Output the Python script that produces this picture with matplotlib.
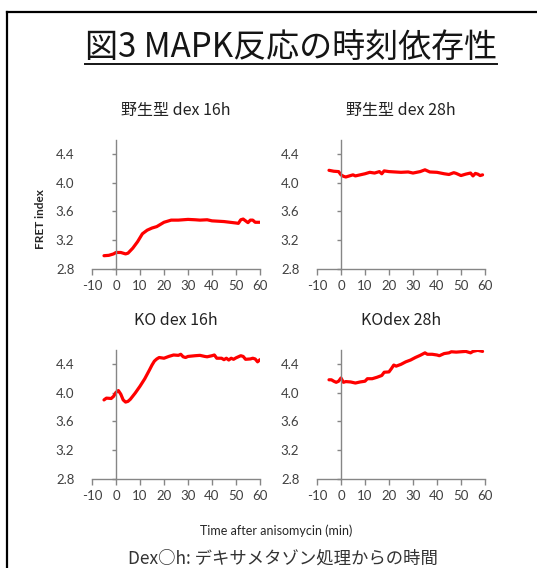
import matplotlib.pyplot as plt
from matplotlib.lines import Line2D

plt.rcParams['font.family'] = ['Lato', 'Noto Sans CJK JP', 'DejaVu Sans']
plt.rcParams['axes.unicode_minus'] = False

# FRET index time courses (min after anisomycin)
t_wt16 = [-5, -3, -1, 0, 2, 4, 5, 7, 9, 11, 13, 15, 17, 20, 23, 26, 30, 33, 35, 38,
          40, 45, 50, 51, 52, 53, 54, 55, 56, 57, 58, 60]
v_wt16 = [2.985, 2.99, 3.01, 3.03, 3.03, 3.01, 3.02, 3.09, 3.18, 3.29, 3.34, 3.37, 3.39,
          3.45, 3.48, 3.48, 3.49, 3.485, 3.48, 3.485, 3.47, 3.46, 3.44, 3.435, 3.485,
          3.495, 3.47, 3.445, 3.48, 3.48, 3.45, 3.45]

t_wt28 = [-5, -3, -1, 0, 1, 2, 3, 5, 6, 8, 10, 12, 14, 16, 17, 18, 20, 25, 28, 30, 33,
          35, 37, 40, 43, 45, 47, 48, 50, 52, 54, 55, 56, 57, 58, 59]
v_wt28 = [4.173, 4.16, 4.155, 4.11, 4.09, 4.08, 4.09, 4.11, 4.095, 4.11, 4.125, 4.145,
          4.135, 4.155, 4.125, 4.165, 4.155, 4.145, 4.15, 4.135, 4.155, 4.18, 4.15, 4.145,
          4.125, 4.115, 4.14, 4.13, 4.10, 4.12, 4.135, 4.095, 4.13, 4.12, 4.10, 4.11]

t_ko16 = [-5, -4, -2, -1, 0, 1, 2, 3, 4, 5, 6, 8, 10, 12, 14, 15, 16, 17, 18, 20, 22, 24,
          26, 27, 28, 29, 30, 33, 35, 37, 38, 40, 41, 42, 44, 45, 46, 47, 48, 49, 50, 52,
          53, 54, 56, 57, 58, 59, 60]
v_ko16 = [3.90, 3.925, 3.92, 3.95, 4.005, 4.03, 3.98, 3.90, 3.87, 3.88, 3.91, 3.995, 4.09,
          4.195, 4.32, 4.385, 4.44, 4.47, 4.49, 4.48, 4.505, 4.525, 4.52, 4.535, 4.50, 4.49,
          4.505, 4.515, 4.52, 4.505, 4.50, 4.515, 4.525, 4.48, 4.48, 4.46, 4.48, 4.455,
          4.48, 4.465, 4.485, 4.515, 4.505, 4.465, 4.47, 4.48, 4.47, 4.43, 4.46]

t_ko28 = [-5, -4, -3, -2, -1, 0, 1, 2, 4, 6, 8, 10, 11, 13, 15, 17, 18, 20, 21, 22, 23,
          25, 27, 29, 31, 33, 35, 36, 38, 40, 41, 43, 45, 46, 48, 50, 52, 54, 55, 57, 59]
v_ko28 = [4.18, 4.18, 4.16, 4.145, 4.16, 4.205, 4.145, 4.155, 4.15, 4.135, 4.15, 4.16,
          4.195, 4.195, 4.215, 4.24, 4.285, 4.29, 4.335, 4.385, 4.37, 4.395, 4.43, 4.455,
          4.49, 4.52, 4.555, 4.535, 4.535, 4.525, 4.515, 4.545, 4.555, 4.57, 4.565, 4.57,
          4.575, 4.555, 4.575, 4.59, 4.575]

panels = [
    ('野生型 dex 16h', t_wt16, v_wt16, [0.1713, 0.5264]),
    ('野生型 dex 28h', t_wt28, v_wt28, [0.5903, 0.5264]),
    ('KO dex 16h', t_ko16, v_ko16, [0.1713, 0.1567]),
    ('KOdex 28h', t_ko28, v_ko28, [0.5903, 0.1567]),
]

xticks = [-10, 0, 10, 20, 30, 40, 50, 60]
yticks = [2.8, 3.2, 3.6, 4.0, 4.4]

fig = plt.figure(figsize=(5.37, 5.68), dpi=100)

for title, t, v, (left, bottom) in panels:
    ax = fig.add_axes([left, bottom, 0.3128, 0.2278])
    ax.plot(t, v, color='#ff0000', lw=2.3, solid_capstyle='round')
    ax.set_xlim(-10, 60)
    ax.set_ylim(2.8, 4.6)
    ax.set_xticks(xticks)
    ax.set_yticks(yticks)
    ax.set_yticklabels(['%.1f' % y for y in yticks])
    ax.spines['top'].set_visible(False)
    ax.spines['right'].set_visible(False)
    ax.spines['left'].set_position(('data', 0))
    for s in ('left', 'bottom'):
        ax.spines[s].set_color('#868686')
        ax.spines[s].set_linewidth(1.0)
    ax.tick_params(axis='x', direction='out', length=4, width=1, color='#868686',
                   labelsize=9.5, labelcolor='#404040', pad=4)
    ax.tick_params(axis='y', direction='out', length=3, width=1, color='#868686',
                   labelsize=9.5, labelcolor='#404040', pad=27)
    ax.set_title(title, fontsize=11.5, color='#222222', pad=18,
                 family=['Noto Sans CJK JP', 'DejaVu Sans'])
    ax.patch.set_alpha(0)

fig.text(0.076, 0.615, 'FRET index', rotation=90, ha='center', va='center',
         fontsize=8.5, fontweight='bold', color='#262626')
fig.text(0.514, 0.065, 'Time after anisomycin (min)', ha='center', va='center',
         fontsize=9, color='#262626')
fig.text(0.527, 0.016, 'Dex○h: デキサメタゾン処理からの時間', ha='center', va='center',
         fontsize=12.5, color='#333333', family=['Noto Sans CJK JP', 'DejaVu Sans'])

title = fig.text(0.542, 0.917, '図3 MAPK反応の時刻依存性', ha='center', va='center',
                 fontsize=23.8, color='#151515', family=['Noto Sans CJK JP', 'DejaVu Sans'])

# underline under the main heading
fig.canvas.draw()
bb = title.get_window_extent().transformed(fig.transFigure.inverted())
fig.add_artist(Line2D([bb.x0, bb.x1], [0.888, 0.888], color='#151515', lw=1.4))

# frame edges (top and left)
fig.add_artist(Line2D([0.013, 1.0], [0.979, 0.979], color='black', lw=1.6))
fig.add_artist(Line2D([0.013, 0.013], [0.0, 0.979], color='black', lw=1.6))

fig.savefig('out.png', dpi=100)
